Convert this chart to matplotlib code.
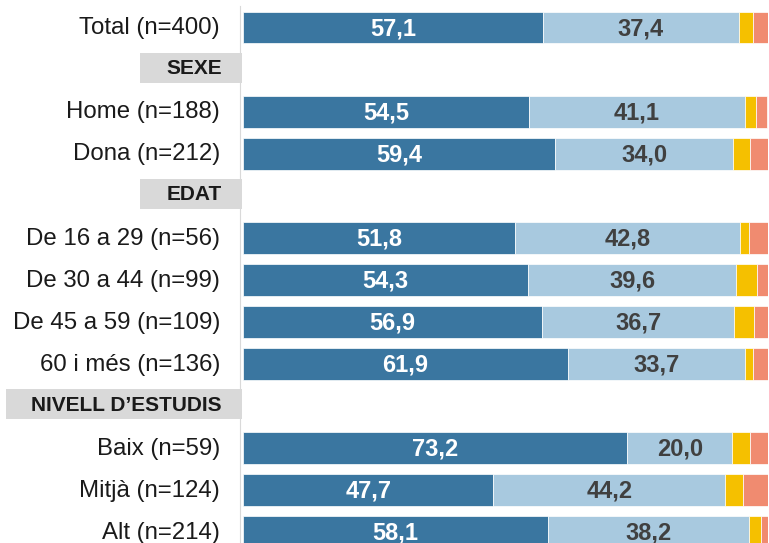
import matplotlib
matplotlib.use("Agg")
import matplotlib.pyplot as plt
from matplotlib import font_manager
from matplotlib.patches import Rectangle

plt.rcParams['font.family'] = ['Liberation Sans', 'DejaVu Sans']

# pick the normal-width Liberation Sans bold file (not the Narrow one)
bold_file = None
for f in font_manager.findSystemFonts():
    name = f.split("/")[-1]
    if name == "LiberationSans-Bold.ttf":
        bold_file = f
bold = font_manager.FontProperties(fname=bold_file) if bold_file else \
    font_manager.FontProperties(family="DejaVu Sans", weight="bold")

# rows from top to bottom; headers have no values
rows = ["Total (n=400)", "SEXE", "Home (n=188)", "Dona (n=212)", "EDAT",
        "De 16 a 29 (n=56)", "De 30 a 44 (n=99)", "De 45 a 59 (n=109)", "60 i més (n=136)",
        "NIVELL D\u2019ESTUDIS", "Baix (n=59)", "Mitjà (n=124)", "Alt (n=214)"]
headers = ["SEXE", "EDAT", "NIVELL D\u2019ESTUDIS"]

bar_rows = ["Total (n=400)", "Home (n=188)", "Dona (n=212)",
            "De 16 a 29 (n=56)", "De 30 a 44 (n=99)", "De 45 a 59 (n=109)", "60 i més (n=136)",
            "Baix (n=59)", "Mitjà (n=124)", "Alt (n=214)"]
serie1 = [57.1, 54.5, 59.4, 51.8, 54.3, 56.9, 61.9, 73.2, 47.7, 58.1]
serie2 = [37.4, 41.1, 34.0, 42.8, 39.6, 36.7, 33.7, 20.0, 44.2, 38.2]
serie3 = [2.7, 2.2, 3.2, 1.8, 4.1, 3.7, 1.5, 3.4, 3.4, 2.4]
serie4 = [2.8, 2.1, 3.4, 3.6, 2.0, 2.7, 2.9, 3.4, 4.7, 1.3]

colors = ["#3a76a0", "#a8c9df", "#f5c000", "#f08b70"]
text_colors = ["white", "#404040"]

fig = plt.figure(figsize=(7.69, 5.43), dpi=100)
ax = fig.add_axes([243 / 769, 0, 525 / 769, 1])

ypos = [rows.index(r) for r in bar_rows]
left = [0] * len(bar_rows)
for k, serie in enumerate([serie1, serie2, serie3, serie4]):
    ax.barh(ypos, serie, left=left, height=0.76, color=colors[k],
            edgecolor="white", linewidth=0.5)
    if k < 2:
        for y, l, v in zip(ypos, left, serie):
            ax.text(l + v / 2, y + 0.03, f"{v:.1f}".replace(".", ","), ha="center", va="center",
                    color=text_colors[k], fontproperties=bold, fontsize=17)
    left = [a + b for a, b in zip(left, serie)]

ax.set_xlim(0, 100)
ax.set_ylim(12.26, -0.654)

# category labels and section headers
trans = ax.get_yaxis_transform()
for i, r in enumerate(rows):
    if r in headers:
        x0 = -0.451 if r.startswith("NIVELL") else -0.196
        ax.add_patch(Rectangle((x0, i - 0.4), -0.002 - x0, 0.72, transform=trans,
                               facecolor="#d9d9d9", edgecolor="none", clip_on=False))
        ax.text(-0.04, i - 0.02, r, transform=trans, ha="right", va="center",
                fontproperties=bold, fontsize=15, color="#1a1a1a")
    else:
        ax.text(-0.044, i + 0.02, r, transform=trans, ha="right", va="center",
                fontsize=17.3, color="#1a1a1a")

ax.set_xticks([])
ax.set_yticks([])
for s in ["top", "right", "bottom"]:
    ax.spines[s].set_visible(False)
ax.spines["left"].set_position(("outward", 2))
ax.spines["left"].set_color("#d9d9d9")
ax.spines["left"].set_bounds(12.26, -0.5)

fig.savefig("out.png", dpi=100)
